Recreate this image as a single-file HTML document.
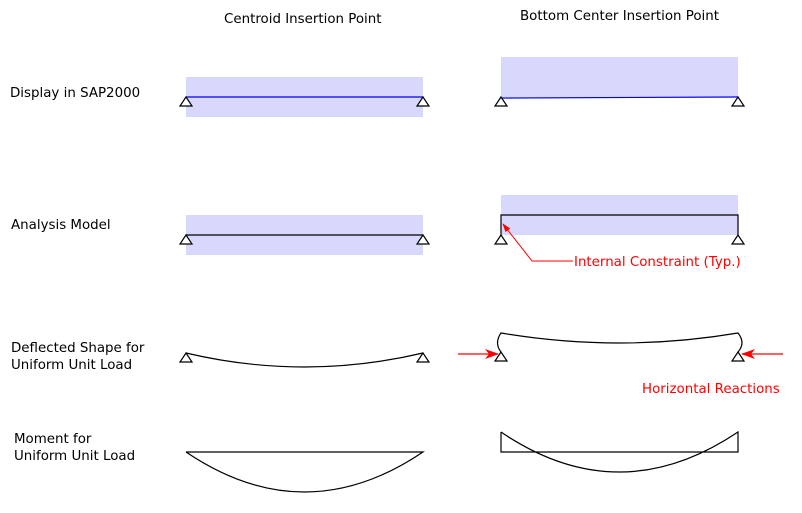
<!DOCTYPE html>
<html><head><meta charset="utf-8"><style>
html,body{margin:0;padding:0;background:#fff}
svg{display:block}
text{font-family:"DejaVu Sans","Liberation Sans",sans-serif;font-size:13.4px}
</style></head><body>
<svg width="802" height="513" viewBox="0 0 802 513" xmlns="http://www.w3.org/2000/svg">
<defs>
<marker id="ah" markerWidth="14" markerHeight="10" refX="13" refY="5" orient="auto" markerUnits="userSpaceOnUse">
<path d="M0,0 L14,5 L0,10 L4,5 Z" fill="red"/></marker>
<marker id="as" markerWidth="9" markerHeight="6" refX="8" refY="3" orient="auto" markerUnits="userSpaceOnUse">
<path d="M0,0 L9,3 L0,6 Z" fill="red"/></marker>
</defs>
<g fill="#000">
<text x="224" y="23">Centroid Insertion Point</text>
<text x="520" y="20">Bottom Center Insertion Point</text>
<text x="10" y="97">Display in SAP2000</text>
<text x="11" y="229">Analysis Model</text>
<text x="11" y="352">Deflected Shape for</text>
<text x="11" y="369">Uniform Unit Load</text>
<text x="14" y="443">Moment for</text>
<text x="14" y="460">Uniform Unit Load</text>
</g>
<g fill="red">
<text x="574" y="266">Internal Constraint (Typ.)</text>
<text x="642" y="393">Horizontal Reactions</text>
</g>
<rect x="186" y="77" width="237" height="40" fill="#d8d8fc"/>
<line x1="186" y1="97" x2="423" y2="97" stroke="#0000ee" stroke-width="1.2"/>
<rect x="501" y="57" width="237" height="40" fill="#d8d8fc"/>
<line x1="501" y1="98" x2="738" y2="97" stroke="#0000ee" stroke-width="1.2"/>
<rect x="186" y="215" width="237" height="40" fill="#d8d8fc"/>
<line x1="186" y1="235" x2="423" y2="235" stroke="#000" stroke-width="1.2"/>
<rect x="501" y="195" width="237" height="40" fill="#d8d8fc"/>
<path d="M501,235 V215 H738 V235" fill="none" stroke="#000" stroke-width="1.2"/>
<path d="M573,261 H532 L503,224" fill="none" stroke="red" stroke-width="1" marker-end="url(#as)"/>
<path d="M186,353 Q304.5,381 423,353" fill="none" stroke="#000" stroke-width="1.2"/>
<path d="M501,352 Q494,343 501,333 Q619.5,353 738,333 Q746,343 738,352" fill="none" stroke="#000" stroke-width="1.2"/>
<line x1="458" y1="354" x2="498" y2="354" stroke="red" stroke-width="1.2" marker-end="url(#ah)"/>
<line x1="783" y1="354" x2="742" y2="354" stroke="red" stroke-width="1.2" marker-end="url(#ah)"/>
<path d="M186,452 H423 Q304.5,532 186,452" fill="none" stroke="#000" stroke-width="1.2"/>
<path d="M501,432 V452 H738 V432 Q619,512 501,432" fill="none" stroke="#000" stroke-width="1.2"/>
<g fill="#fff" stroke="#000" stroke-width="1.2">
<path d="M186,97 l-6,9 h12 z"/><path d="M423,97 l-6,9 h12 z"/>
<path d="M501,97 l-6,9 h12 z"/><path d="M738,97 l-6,9 h12 z"/>
<path d="M186,235 l-6,9 h12 z"/><path d="M423,235 l-6,9 h12 z"/>
<path d="M501,235 l-6,9 h12 z"/><path d="M738,235 l-6,9 h12 z"/>
<path d="M186,353 l-6,9 h12 z"/><path d="M423,353 l-6,9 h12 z"/>
<path d="M501,352 l-6,9 h12 z"/><path d="M738,352 l-6,9 h12 z"/>
</g>
</svg>
</body></html>
